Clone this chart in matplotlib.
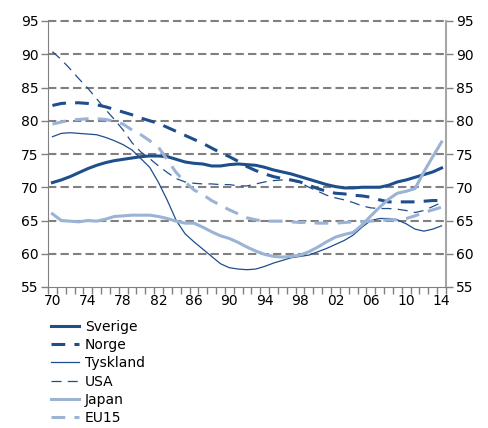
import matplotlib
matplotlib.use("Agg")
import matplotlib.pyplot as plt
from matplotlib.ticker import FixedLocator, FixedFormatter

# employment / share series, 1970-2014
years = list(range(1970, 2015))

sverige = [70.7, 71.1, 71.6, 72.2, 72.8, 73.3, 73.7, 74.0, 74.2, 74.4,
           74.6, 74.7, 74.7, 74.6, 74.2, 73.8, 73.6, 73.5, 73.2, 73.2,
           73.4, 73.5, 73.4, 73.3, 73.0, 72.6, 72.3, 72.0, 71.6, 71.2,
           70.8, 70.4, 70.1, 69.9, 69.9, 70.0, 70.0, 70.0, 70.3, 70.8,
           71.1, 71.5, 71.9, 72.3, 72.9]
norge = [82.3, 82.6, 82.7, 82.7, 82.6, 82.4, 82.1, 81.7, 81.3, 80.9,
         80.4, 80.0, 79.6, 79.0, 78.4, 77.8, 77.2, 76.6, 75.9, 75.2,
         74.6, 73.9, 73.1, 72.5, 72.0, 71.6, 71.3, 71.1, 70.8, 70.3,
         69.8, 69.4, 69.1, 69.0, 68.8, 68.7, 68.5, 68.1, 67.8, 67.8,
         67.8, 67.8, 67.9, 68.0, 68.0]
tyskland = [77.6, 78.1, 78.2, 78.1, 78.0, 77.9, 77.5, 77.0, 76.4, 75.6,
            74.3, 73.0, 70.7, 68.0, 65.0, 63.0, 61.8, 60.7, 59.6, 58.5,
            57.9, 57.7, 57.6, 57.7, 58.1, 58.6, 59.0, 59.4, 59.6, 59.8,
            60.3, 60.8, 61.4, 62.0, 62.8, 64.0, 65.0, 65.3, 65.3, 65.1,
            64.5, 63.7, 63.4, 63.7, 64.2]
usa = [90.4, 89.2, 87.8, 86.3, 84.9, 83.3, 81.7, 80.2, 78.6, 76.7,
       75.3, 74.3, 73.2, 72.2, 71.3, 70.8, 70.6, 70.5, 70.5, 70.4,
       70.4, 70.2, 70.2, 70.5, 70.8, 71.0, 71.1, 71.0, 70.7, 70.0,
       69.4, 68.8, 68.4, 68.1, 67.7, 67.2, 66.9, 66.8, 66.8, 66.7,
       66.5, 66.2, 66.5, 67.1, 67.7]
japan = [66.0, 65.0, 64.9, 64.8, 65.0, 64.9, 65.2, 65.6, 65.7, 65.8,
         65.8, 65.8, 65.6, 65.3, 64.9, 64.6, 64.6, 64.0, 63.3, 62.7,
         62.3, 61.7, 61.0, 60.4, 59.9, 59.6, 59.5, 59.6, 59.8, 60.3,
         61.0, 61.8, 62.5, 62.9, 63.2, 64.3, 65.7, 67.0, 68.2, 69.1,
         69.4, 69.8, 72.3, 74.6, 76.8]
eu15 = [79.5, 79.8, 80.1, 80.2, 80.3, 80.3, 80.2, 79.9, 79.5, 78.6,
        77.9, 77.0, 76.0, 74.1, 72.2, 70.8, 69.6, 68.9, 68.0, 67.3,
        66.6, 66.0, 65.4, 65.1, 64.9, 64.9, 64.9, 64.8, 64.7, 64.7,
        64.6, 64.6, 64.6, 64.7, 64.8, 64.8, 64.9, 65.0, 65.1, 65.1,
        65.3, 65.7, 66.2, 66.6, 67.0]

dark = "#1f4e8c"
light = "#9bb3d4"

plt.rcParams['font.family'] = ['DejaVu Sans']
plt.rcParams['font.size'] = 10

fig = plt.figure(figsize=(4.89, 4.28), dpi=100)
ax = fig.add_axes([48 / 489, 1 - 287 / 428, (446 - 48) / 489, (287 - 21) / 428])

ax.plot(years, sverige, color=dark, lw=2.2, label="Sverige")
ax.plot(years, norge, color=dark, lw=2.2, dashes=(4.5, 3), label="Norge")
ax.plot(years, tyskland, color=dark, lw=0.9, label="Tyskland")
ax.plot(years, usa, color=dark, lw=0.9, dashes=(8, 5), label="USA")
ax.plot(years, japan, color=light, lw=2.2, label="Japan")
ax.plot(years, eu15, color=light, lw=2.2, dashes=(4.5, 3), label="EU15")

ax.set_xlim(1969.5, 2014.5)
ax.set_ylim(55, 95)

# dashed grid
for v in range(60, 100, 5):
    ax.axhline(v, color="#808080", lw=1.5, dashes=(4, 2), zorder=0, clip_on=False)

ax.set_yticks(range(55, 100, 5))
ax.tick_params(axis="y", which="both", direction="out", length=5, width=1,
               color="#808080", labelsize=10, left=True, right=True,
               labelleft=True, labelright=True, pad=2)

labyears = list(range(1970, 2015, 4))
ax.xaxis.set_major_locator(FixedLocator(labyears))
ax.xaxis.set_major_formatter(FixedFormatter(["%02d" % (y % 100) for y in labyears]))
ax.xaxis.set_minor_locator(FixedLocator([y + 0.5 for y in range(1969, 2015)]))
ax.tick_params(axis="x", which="major", length=0, labelsize=10, pad=5)
ax.tick_params(axis="x", which="minor", direction="out", length=5, width=1,
               color="#808080")

ax.spines["top"].set_visible(False)
ax.spines["left"].set_color("#808080")
ax.spines["right"].set_color("#a6a6a6")
ax.spines["right"].set_linewidth(1.5)
ax.spines["bottom"].set_color("#808080")

fig.legend(loc="upper left", bbox_to_anchor=(51 / 489, 1 - 320 / 428),
           frameon=False, handlelength=2.0, handletextpad=0.45,
           labelspacing=0.3, borderpad=0, borderaxespad=0, fontsize=10)

fig.savefig("out.png", dpi=100)
